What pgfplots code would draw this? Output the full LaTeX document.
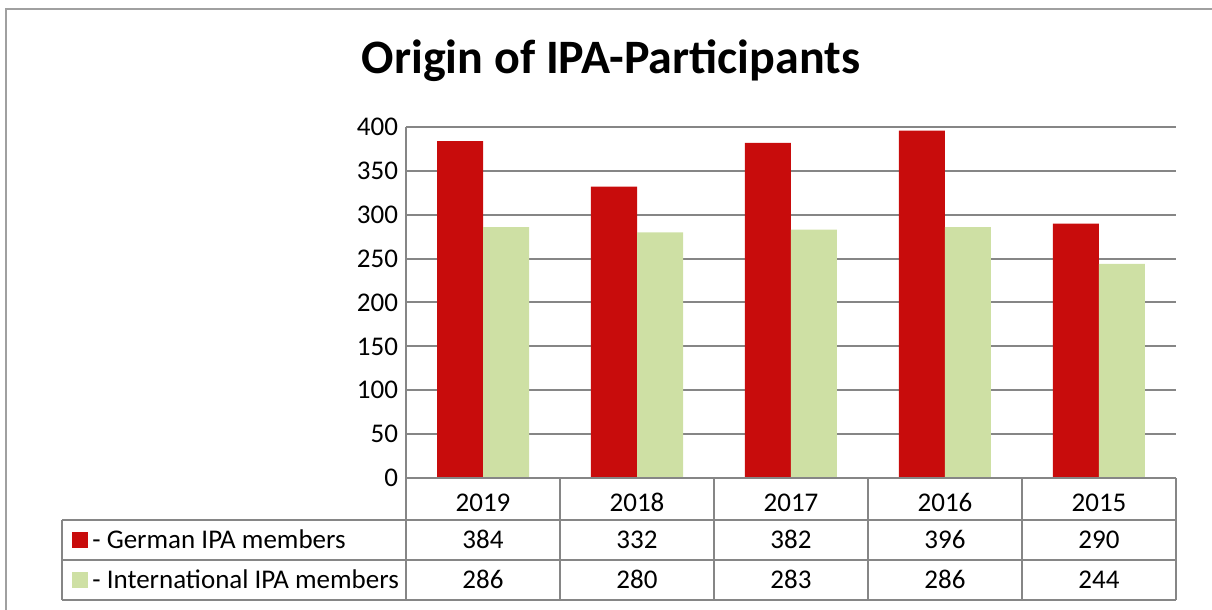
\documentclass[border=0pt]{standalone}
\usepackage{pgfplots}
\pgfplotsset{compat=1.18}
\usepackage{pgfplotstable}
\usepackage{fontspec}
\setmainfont{Carlito}
\definecolor{gred}{RGB}{200,12,12}
\definecolor{lgreen}{RGB}{206,224,164}
\definecolor{gridgray}{RGB}{134,134,134}
\definecolor{framegray}{RGB}{160,160,160}

\pgfplotstableread{
x year german intl
0 2019 384 286
1 2018 332 280
2 2017 382 283
3 2016 396 286
4 2015 290 244
}\datatable

\begin{document}
\begin{tikzpicture}[x=0.5pt,y=0.5pt]
\useasboundingbox (0,0) rectangle (1212,610);
\coordinate (A) at (406,132);
\draw[framegray, line width=1.2pt] (6,0) -- (6,601) -- (1212,601);
\node[font=\fontsize{24}{28}\selectfont\bfseries] at (611,549) {Origin of IPA-Participants};
\begin{axis}[
  at={(A)}, anchor=south west,
  scale only axis, width=385pt, height=175.5pt,
  xmin=-0.5, xmax=4.5, ymin=0, ymax=400,
  enlargelimits=false,
  ytick={0,50,...,400}, xtick=\empty,
  ymajorgrids,
  grid style={gridgray, line width=1pt},
  axis x line=none, axis y line=left,
  y axis line style={gridgray, line width=1pt, -},
  major tick length=0pt,
  ybar=0pt, bar width=23pt,
  yticklabel style={font=\fontsize{13.5}{16}\selectfont, xshift=-0.5pt},
  /pgf/number format/assume math mode=true,
  clip=false,
]
\addplot[fill=gred, draw=none] table[x=x, y=german] {\datatable};
\addplot[fill=lgreen, draw=none] table[x=x, y=intl] {\datatable};
\end{axis}
% data table
\begin{scope}[gridgray, line width=1pt]
\draw (406,132) -- (1176,132);
\foreach \yy in {90,50,10} \draw (62,\yy) -- (1176,\yy);
\foreach \xx in {406,560,714,868,1022,1176} \draw (\xx,132) -- (\xx,10);
\draw (62,90) -- (62,10);
\end{scope}
\begin{scope}[font=\fontsize{13.5}{16}\selectfont, every node/.style={anchor=base, inner sep=0pt}]
\foreach \yr [count=\i from 0] in {2019,2018,2017,2016,2015}
  \node at (483+154*\i,98.5) {\yr};
\foreach \v [count=\i from 0] in {384,332,382,396,290}
  \node at (483+154*\i,61.5) {\v};
\foreach \v [count=\i from 0] in {286,280,283,286,244}
  \node at (483+154*\i,21.5) {\v};
\fill[gred] (72,62) rectangle (88,78);
\fill[lgreen] (72,22) rectangle (88,38);
\node[anchor=base west] at (92,61.5) {- German IPA members};
\node[anchor=base west] at (92,21.5) {- International IPA members};
\end{scope}
\end{tikzpicture}
\end{document}
